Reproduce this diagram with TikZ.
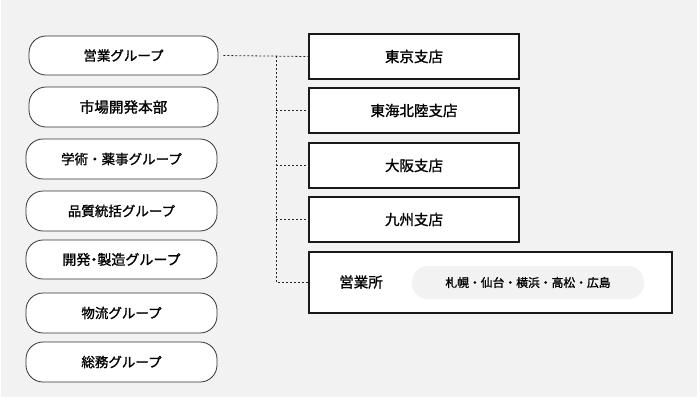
\documentclass[tikz,border=0pt]{standalone}
\usepackage{fontspec}
\setmainfont{Noto Sans CJK JP}[FakeBold=1.2]
\begin{document}
\begin{tikzpicture}[x=1pt,y=-1pt,
  pill/.style={draw=black!80,line width=0.8pt,fill=white,rounded corners=17pt,inner sep=0pt,font=\fontsize{13.5}{15}\selectfont},
  branch/.style={draw=black!90,line width=1.1pt,fill=white,inner sep=0pt,font=\fontsize{14.5}{16}\selectfont},
  conn/.style={draw=black!85,line width=0.8pt,dash pattern=on 2pt off 2pt}]
\useasboundingbox (0,0) rectangle (700,400);
\fill[white] (0,0) rectangle (700,400);
\fill[black!5] (1,0) rectangle (697,397);
% left pills
\node[pill,minimum width=189pt,minimum height=39pt] (g1) at (123.5,55.5) {営業グループ};
\node[pill,minimum width=189pt,minimum height=40pt,font=\fontsize{14.6}{16}\selectfont] (g2) at (123.5,107) {市場開発本部};
\node[pill,minimum width=191pt,minimum height=40pt] (g3) at (121.5,159) {学術・薬事グループ};
\node[pill,minimum width=191pt,minimum height=40pt] (g4) at (121.5,211) {品質統括グループ};
\node[pill,minimum width=191pt,minimum height=39pt,font=\fontsize{14}{15}\selectfont] (g5) at (121.5,259.5) {開発\kern-3.5pt・\kern-3.5pt製造グループ};
\node[pill,minimum width=191pt,minimum height=40pt] (g6) at (121.5,313) {物流グループ};
\node[pill,minimum width=191pt,minimum height=40pt] (g7) at (121.5,362) {総務グループ};
% right boxes
\node[branch,minimum width=210pt,minimum height=45pt] (b1) at (414,56.5) {東京支店};
\node[branch,minimum width=210pt,minimum height=45pt] (b2) at (414,110.5) {東海北陸支店};
\node[branch,minimum width=210pt,minimum height=45pt] (b3) at (414,165.5) {大阪支店};
\node[branch,minimum width=210pt,minimum height=45pt] (b4) at (414,219.5) {九州支店};
\node[branch,minimum width=363pt,minimum height=61pt] (b5) at (490.5,282.5) {};
\node[font=\fontsize{14.5}{16}\selectfont,inner sep=0pt] (b5t) at (361,282) {営業所};
\node[fill=black!5,rounded corners=16pt,minimum width=232pt,minimum height=33pt,inner sep=0pt,font=\fontsize{11.8}{13}\selectfont] (b5p) at (528,282.5) {札幌・仙台・横浜・高松・広島};
% connectors
\coordinate (j) at (276,56);
\draw[conn] ([xshift=5pt]g1.east) -- (b1.west);
\draw[conn] (j) |- (b5.west);
\draw[conn] (j |- b2.west) -- (b2.west);
\draw[conn] (j |- b3.west) -- (b3.west);
\draw[conn] (j |- b4.west) -- (b4.west);
\end{tikzpicture}
\end{document}
